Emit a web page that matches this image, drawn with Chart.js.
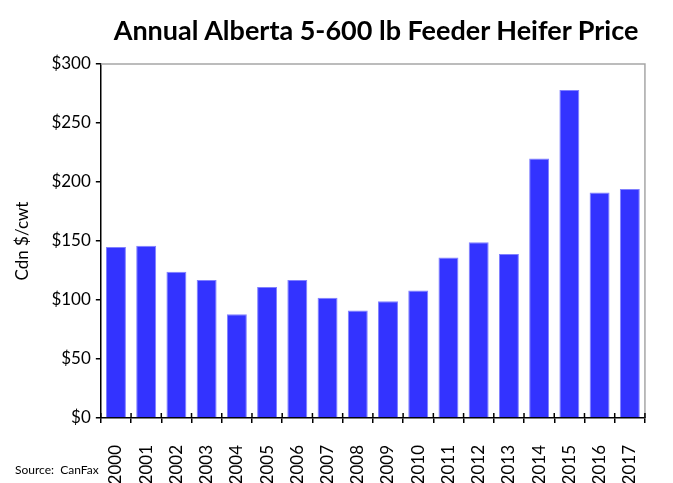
<!DOCTYPE html>
<html>
<head>
<meta charset="utf-8">
<script src="https://cdn.jsdelivr.net/npm/chart.js@4"></script>
<style>
  body { margin: 0; background: #fff; }
  #wrap { position: relative; width: 673px; height: 483px; }
  #title { position: absolute; left: 376px; top: 13px; transform: translateX(-50%); white-space: nowrap;
           font: bold 27px Lato, sans-serif; color: #000; }
  #source { position: absolute; left: 15px; top: 462px; font: 12px Lato, sans-serif; color: #000; }
</style>
</head>
<body>
<div id="wrap">
  <canvas id="heiferChart" width="673" height="483"></canvas>
  <div id="title">Annual Alberta 5-600 lb Feeder Heifer Price</div>
  <div id="source">Source:&nbsp; CanFax</div>
</div>
<script>
// Chart data
const years = ['2000','2001','2002','2003','2004','2005','2006','2007','2008',
               '2009','2010','2011','2012','2013','2014','2015','2016','2017'];
const prices = [145, 146, 124, 117, 88, 111, 117, 102, 91,
                99, 108, 136, 149, 139, 220, 278, 191, 194];
const yTicks = [0, 50, 100, 150, 200, 250, 300];

// Grey frame on top/right plus tick marks crossing the x axis
const framePlugin = {
    id: 'frame',
    afterDraw(chart) {
        const { ctx, chartArea: a, scales } = chart;
        ctx.save();
        ctx.strokeStyle = '#a6a6a6';
        ctx.lineWidth = 1.5;
        ctx.beginPath();
        ctx.moveTo(a.left, a.top);
        ctx.lineTo(a.right, a.top);
        ctx.lineTo(a.right, a.bottom);
        ctx.stroke();

        ctx.strokeStyle = '#000';
        ctx.lineWidth = 1.5;
        const x = scales.x;
        for (let i = 0; i <= years.length; i++) {
            const px = i < years.length
                ? x.getPixelForValue(i) - (x.getPixelForValue(1) - x.getPixelForValue(0)) / 2
                : a.right;
            ctx.beginPath();
            ctx.moveTo(px, a.bottom - 5);
            ctx.lineTo(px, a.bottom);
            ctx.stroke();
        }
        ctx.restore();
    }
};

const ctx = document.getElementById('heiferChart').getContext('2d');
new Chart(ctx, {
    type: 'bar',
    data: {
        labels: years,
        datasets: [{
            data: prices,
            backgroundColor: '#3333ff',
            borderColor: '#8080ff',
            borderWidth: { top: 1, left: 1, right: 1 },
            categoryPercentage: 1,
            barPercentage: 0.66
        }]
    },
    options: {
        responsive: false,
        animation: false,
        layout: { padding: { top: 64, right: 28, left: 8, bottom: 0 } },
        plugins: {
            legend: { display: false },
            tooltip: { enabled: false },
            title: { display: false }
        },
        scales: {
            x: {
                afterFit(scale) { scale.height = 65; },
                grid: { display: true, drawOnChartArea: false, color: '#000', lineWidth: 1.5, tickLength: 5, offset: true },
                border: { color: '#000', width: 1.5 },
                ticks: {
                    color: '#000',
                    font: { family: 'Lato', size: 17 },
                    minRotation: 90,
                    maxRotation: 90,
                    padding: 22
                }
            },
            y: {
                min: 0,
                max: 300,
                afterBuildTicks(scale) {
                    scale.ticks = yTicks.map(v => ({ value: v }));
                },
                grid: { drawOnChartArea: false, color: '#000', lineWidth: 1.5, tickLength: 5 },
                border: { color: '#000', width: 1.5 },
                ticks: {
                    color: '#000',
                    font: { family: 'Lato', size: 17 },
                    padding: 5,
                    callback: v => '$' + v
                },
                title: {
                    display: true,
                    text: 'Cdn $/cwt',
                    color: '#000',
                    font: { family: 'Lato', size: 17 },
                    padding: { bottom: 14 }
                }
            }
        }
    },
    plugins: [framePlugin]
});
</script>
</body>
</html>
